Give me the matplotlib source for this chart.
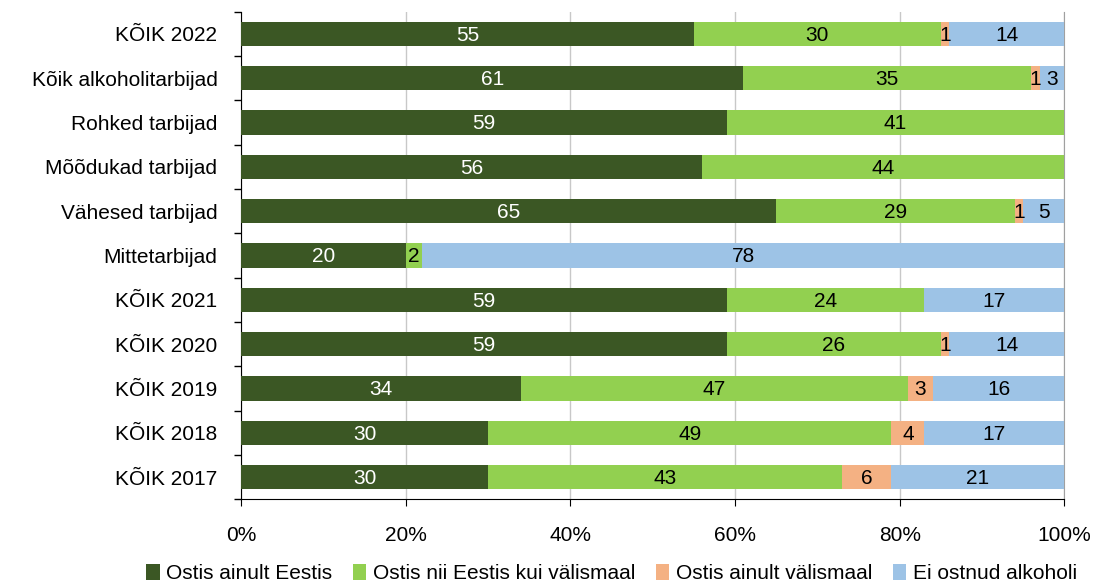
import matplotlib.pyplot as plt
import numpy as np

categories = ["KÕIK 2022", "Kõik alkoholitarbijad", "Rohked tarbijad", "Mõõdukad tarbijad",
              "Vähesed tarbijad", "Mittetarbijad", "KÕIK 2021", "KÕIK 2020",
              "KÕIK 2019", "KÕIK 2018", "KÕIK 2017"]
only_estonia = [55, 61, 59, 56, 65, 20, 59, 59, 34, 30, 30]
both = [30, 35, 41, 44, 29, 2, 24, 26, 47, 49, 43]
only_abroad = [1, 1, 0, 0, 1, 0, 0, 1, 3, 4, 6]
no_purchase = [14, 3, 0, 0, 5, 78, 17, 14, 16, 17, 21]

series = ["Ostis ainult Eestis", "Ostis nii Eestis kui välismaal",
          "Ostis ainult välismaal", "Ei ostnud alkoholi"]
colors = ["#3b5724", "#92d050", "#f4b183", "#9dc3e6"]
text_colors = ["white", "black", "black", "black"]

plt.rcParams['font.family'] = ['Liberation Sans', 'DejaVu Sans']
fs = 15

fig, ax = plt.subplots(figsize=(11.03, 5.86), dpi=100)
fig.subplots_adjust(left=0.2185, right=0.965, top=0.98, bottom=0.148)

y = np.arange(len(categories))
data = [only_estonia, both, only_abroad, no_purchase]
left = np.zeros(len(categories))
for vals, col, tcol, name in zip(data, colors, text_colors, series):
    vals = np.array(vals, dtype=float)
    ax.barh(y, vals, left=left, height=0.55, color=col, label=name, zorder=3)
    for yi, (l, v) in enumerate(zip(left, vals)):
        if v > 0:
            ax.text(l + v / 2, yi + 0.03, f"{int(v)}", ha="center", va="center",
                    color=tcol, fontsize=fs, zorder=4)
    left += vals

ax.set_xlim(0, 100)
ax.set_ylim(len(categories) - 0.5, -0.5)
ax.set_yticks(y)
ax.set_yticklabels(categories, fontsize=fs)
ax.set_yticks(np.arange(len(categories) + 1) - 0.5, minor=True)
ax.tick_params(axis="y", which="major", length=0, pad=17)
ax.tick_params(axis="y", which="minor", length=5, width=1)
ax.set_xticks(np.arange(0, 101, 20))
ax.set_xticklabels([f"{v}%" for v in range(0, 101, 20)], fontsize=fs)
ax.tick_params(axis="x", length=5, pad=14)
ax.xaxis.grid(True, color="#c8c8c8", lw=1, zorder=0)
ax.spines["top"].set_visible(False)
ax.spines["right"].set_color("#a0a0a0")
ax.spines["left"].set_color("black")
ax.spines["bottom"].set_color("black")

ax.legend(loc="center", bbox_to_anchor=(0.45, -0.152), ncol=4, frameon=False,
          fontsize=fs, handlelength=0.65, handleheight=0.85, handletextpad=0.3,
          columnspacing=1.0, borderpad=0.2)

fig.savefig("out.png", dpi=100)
